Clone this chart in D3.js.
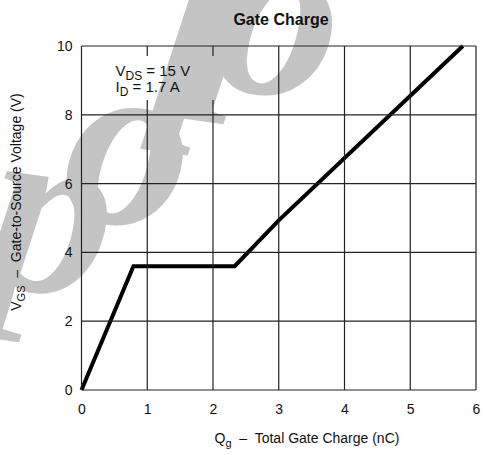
<!DOCTYPE html>
<html>
<head>
<meta charset="utf-8">
<script src="https://cdn.jsdelivr.net/npm/d3@7"></script>
<style>
  body { margin: 0; background: #fff; }
  svg { display: block; font-family: "Liberation Sans", Arial, sans-serif; }
</style>
</head>
<body>
<div id="chart"></div>
<script>
// gate charge curve
var qg = [0, 0.79, 2.33, 3.0, 5.8];      // nC
var vgs = [0, 3.6, 3.6, 4.93, 10];       // V
var xTicks = [0, 1, 2, 3, 4, 5, 6];
var yTicks = [0, 2, 4, 6, 8, 10];

var width = 483, height = 455;
var margin = { top: 46, right: 7, bottom: 65, left: 81.5 };
var plotW = width - margin.left - margin.right,
    plotH = height - margin.top - margin.bottom;

var x = d3.scaleLinear().domain([0, 6]).range([0, plotW]);
var y = d3.scaleLinear().domain([0, 10]).range([plotH, 0]);

var svg = d3.select("#chart").append("svg")
    .attr("width", width)
    .attr("height", height);

// mask: grid lines stop behind the condition note
var mask = svg.append("defs").append("mask").attr("id", "noteGap");
mask.append("rect").attr("width", width).attr("height", height).attr("fill", "#fff");
mask.append("rect")
    .attr("x", margin.left + 28).attr("y", margin.top + 10)
    .attr("width", 108).attr("height", 44)
    .attr("fill", "#000");

// watermark: letters climb the diagonal, each glyph turned back upright-ish
var wm = svg.append("text")
    .attr("transform", "translate(-130,378) rotate(-41)")
    .attr("rotate", 49)
    .style("font-family", "'Liberation Serif', serif")
    .style("font-style", "italic")
    .style("font-weight", "bold")
    .style("font-size", "250px")
    .style("letter-spacing", "-22px")
    .style("fill", "#c4c4c4");
wm.append("tspan").attr("dx", -90).text("A");
wm.append("tspan").attr("dx", 90).text("pollo");

var g = svg.append("g")
    .attr("transform", "translate(" + margin.left + "," + margin.top + ")");

// grid
var grid = svg.append("g")
    .attr("mask", "url(#noteGap)")
    .append("g")
    .attr("transform", "translate(" + margin.left + "," + margin.top + ")");

grid.selectAll(".vgrid").data(xTicks).enter().append("line")
    .attr("x1", function(d) { return x(d); })
    .attr("x2", function(d) { return x(d); })
    .attr("y1", 0).attr("y2", plotH)
    .attr("stroke", "#222").attr("stroke-width", 1.2);

grid.selectAll(".hgrid").data(yTicks).enter().append("line")
    .attr("y1", function(d) { return y(d); })
    .attr("y2", function(d) { return y(d); })
    .attr("x1", 0).attr("x2", plotW)
    .attr("stroke", "#222").attr("stroke-width", 1.2);

var note = g.append("text")
    .attr("x", 34).attr("y", 30)
    .style("font-size", "15px")
    .attr("fill", "#111");
note.append("tspan").text("V");
note.append("tspan").attr("dy", 4).style("font-size", "12px").text("DS");
note.append("tspan").attr("dy", -4).text(" = 15 V");

var note2 = g.append("text")
    .attr("x", 34).attr("y", 46)
    .style("font-size", "15px")
    .attr("fill", "#111");
note2.append("tspan").text("I");
note2.append("tspan").attr("dy", 4).style("font-size", "12px").text("D");
note2.append("tspan").attr("dy", -4).text(" = 1.7 A");

// curve
var line = d3.line()
    .x(function(d, i) { return x(qg[i]); })
    .y(function(d, i) { return y(vgs[i]); });

g.append("path")
    .datum(qg)
    .attr("d", line)
    .attr("fill", "none")
    .attr("stroke", "#000")
    .attr("stroke-width", 4)
    .attr("stroke-linejoin", "miter");

// tick labels
var xAxis = d3.axisBottom(x).tickValues(xTicks).tickFormat(d3.format("d")).tickSize(0).tickPadding(14);
var yAxis = d3.axisLeft(y).tickValues(yTicks).tickFormat(d3.format("d")).tickSize(0).tickPadding(9);

g.append("g").attr("transform", "translate(0," + plotH + ")").call(xAxis)
    .call(function(s) { s.select(".domain").remove(); })
    .selectAll("text").style("font-size", "14px").attr("fill", "#111")
    .style("font-family", "'Liberation Sans', Arial, sans-serif");

g.append("g").call(yAxis)
    .call(function(s) { s.select(".domain").remove(); })
    .selectAll("text").style("font-size", "14px").attr("fill", "#111")
    .style("font-family", "'Liberation Sans', Arial, sans-serif");

// title
svg.append("text")
    .attr("x", 281).attr("y", 25)
    .attr("text-anchor", "middle")
    .style("font-size", "16px")
    .style("font-weight", "bold")
    .attr("fill", "#111")
    .text("Gate Charge");

// x axis title
var xt = svg.append("text")
    .attr("x", 307).attr("y", 443)
    .attr("text-anchor", "middle")
    .style("font-size", "14px")
    .attr("fill", "#111");
xt.append("tspan").text("Q");
xt.append("tspan").attr("dy", 4).style("font-size", "11px").text("g");
xt.append("tspan").attr("dy", -4).attr("xml:space", "preserve").text("  \u2013  Total Gate Charge (nC)");

// y axis title
var yt = svg.append("text")
    .attr("transform", "translate(21,202) rotate(-90)")
    .attr("text-anchor", "middle")
    .style("font-size", "14px")
    .attr("fill", "#111");
yt.append("tspan").text("V");
yt.append("tspan").attr("dy", 4).style("font-size", "11px").text("GS");
yt.append("tspan").attr("dy", -4).attr("xml:space", "preserve").text("  \u2013  Gate-to-Source Voltage (V)");
</script>
</body>
</html>
